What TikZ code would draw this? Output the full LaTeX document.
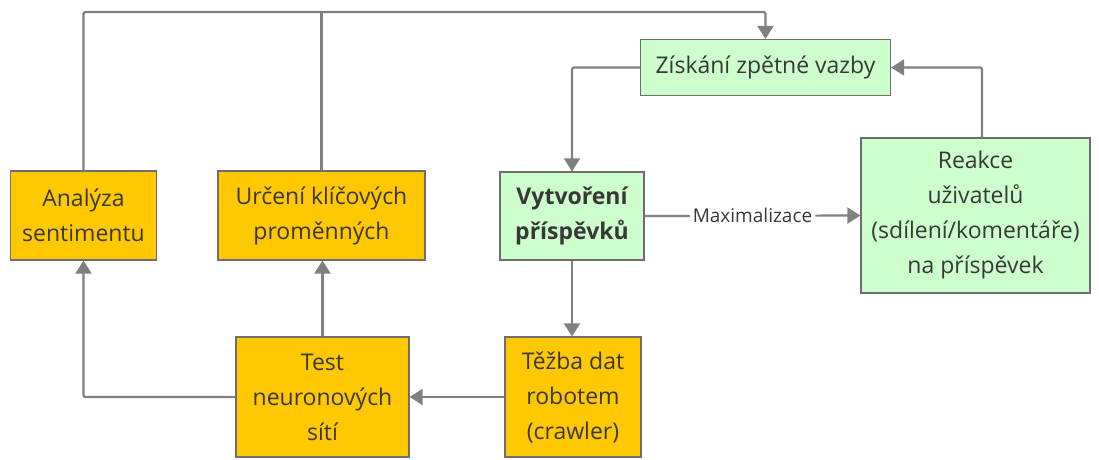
\documentclass[tikz,border=0pt]{standalone}
\usepackage{fontspec}
\setmainfont{Open Sans}
\usetikzlibrary{arrows.meta}
\definecolor{boxyellow}{HTML}{FFC800}
\definecolor{boxgreen}{HTML}{CCFFCC}
\definecolor{edgegray}{HTML}{808080}
\definecolor{framegray}{HTML}{6E6E6E}
\definecolor{txt}{HTML}{383838}
\begin{document}
\begin{tikzpicture}[x=1pt,y=-1pt,
  box/.style={draw=framegray, line width=1.2pt, align=center, text=txt,
    font=\fontsize{23}{35}\selectfont, inner sep=0pt},
  ybox/.style={box, fill=boxyellow},
  gbox/.style={box, fill=boxgreen},
  link/.style={draw=edgegray, line width=2.2pt, rounded corners=2pt,
    -{Triangle[length=13pt,width=16pt]}},
  plainlink/.style={draw=edgegray, line width=2.2pt},
  lbl/.style={fill=white, text=txt, inner xsep=3pt, inner ysep=1pt,
    font=\fontsize{19}{21}\selectfont}]
\useasboundingbox (0,0) rectangle (1099,459);

% nodes
\node[ybox, minimum width=146pt, minimum height=89pt] (ana) at (83.5,215.5) {Analýza\\sentimentu};
\node[ybox, minimum width=207pt, minimum height=89pt] (urc) at (321.5,215.5) {Určení klíčových\\proměnných};
\node[gbox, minimum width=144pt, minimum height=88pt] (vyt) at (572,216) {\bfseries Vytvoření\\\bfseries příspěvků};
\node[gbox, minimum width=250pt, minimum height=56pt] (zis) at (765.5,67.5) {Získání zpětné vazby};
\node[gbox, minimum width=229pt, minimum height=155pt] (rea) at (975.5,215.5) {Reakce\\uživatelů\\(sdílení/komentáře)\\na příspěvek};
\node[ybox, minimum width=173pt, minimum height=120pt] (tes) at (322.5,397) {Test\\neuronových\\sítí};
\node[ybox, minimum width=136pt, minimum height=120pt] (tez) at (573,397) {Těžba dat\\robotem\\(crawler)};

% connectors
\coordinate (top) at (765.5,12);
\draw[link] (vyt.east) -- node[lbl] {Maximalizace} (rea.west);
\draw[link] (vyt.south) -- (vyt.south |- tez.north);
\draw[link] (tez.west) -- (tes.east);
\draw[link] (tes.west) -| (ana.south);
\draw[link] (tes.north) -- (tes.north |- urc.south);
\draw[link] (zis.west) -| (vyt.north);
\draw[link] ([xshift=6.5pt]rea.north) |- (zis.east);
\draw[link] (ana.north) |- (top) -- (zis.north);
\draw[plainlink] (urc.north) -- (urc.north |- top);
\end{tikzpicture}
\end{document}
